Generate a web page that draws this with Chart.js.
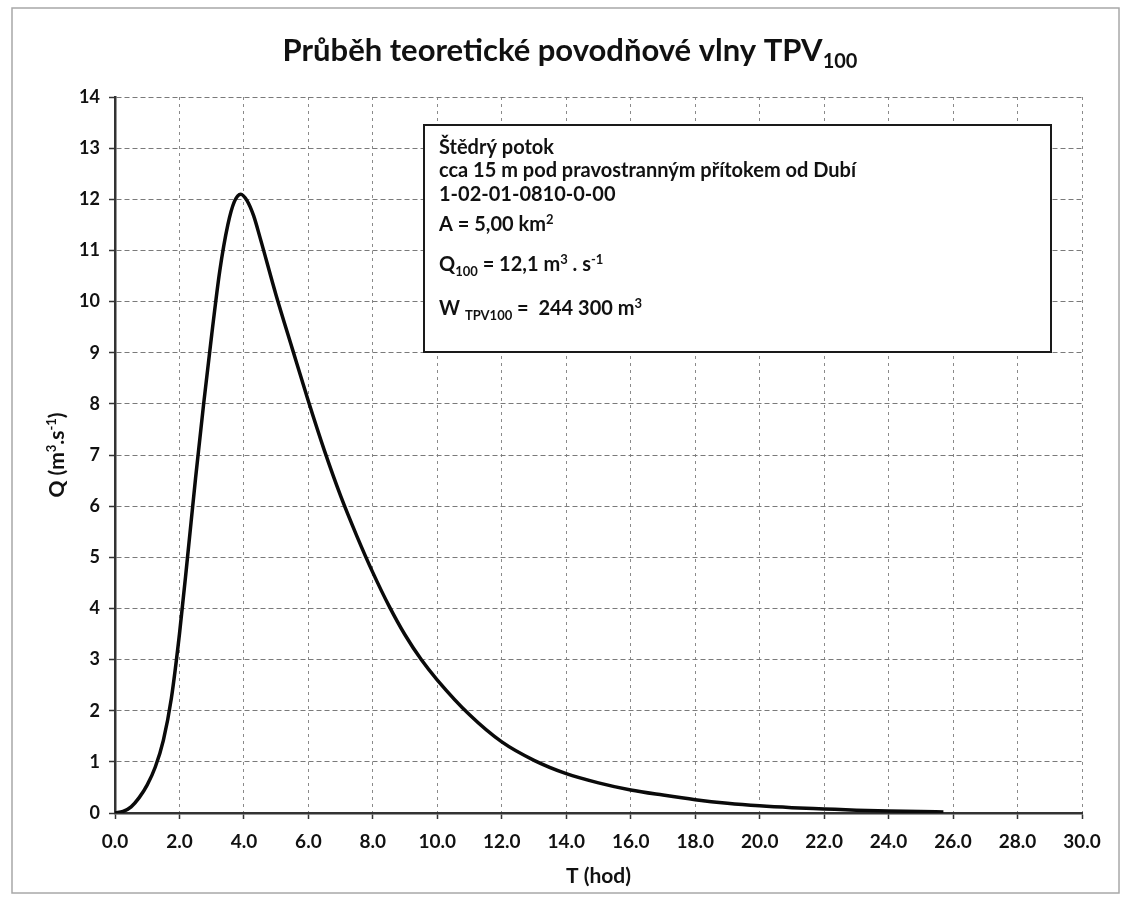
<!DOCTYPE html>
<html>
<head>
<meta charset="utf-8">
<script src="https://cdn.jsdelivr.net/npm/chart.js@4.4.1/dist/chart.umd.min.js"></script>
<style>
  html, body { margin: 0; padding: 0; background: #ffffff; }
  #wrap { width: 1121px; height: 916px; }
</style>
</head>
<body>
<div id="wrap"><canvas id="tpv" width="1121" height="916"></canvas></div>
<script>
// hydrograph: time (hod) and discharge (m3/s)
const hours = [0, 0.25, 0.5, 0.75, 1.0, 1.25, 1.5, 1.75, 2.0, 2.25, 2.5, 2.75, 3.0, 3.25, 3.5, 3.7, 3.9, 4.1, 4.3, 4.5, 5.0, 5.5, 6.0, 6.5, 7.0, 7.5, 8.0, 8.5, 9.0, 9.5, 10, 11, 12, 13, 14, 15, 16, 17, 18, 19, 20, 21, 22, 23, 24, 25, 25.7];
const flow = [0, 0.03, 0.12, 0.3, 0.55, 0.9, 1.42, 2.25, 3.5, 5.0, 6.55, 8.0, 9.35, 10.6, 11.5, 11.95, 12.1, 11.97, 11.68, 11.25, 10.12, 9.08, 8.05, 7.08, 6.2, 5.42, 4.7, 4.05, 3.48, 3.0, 2.6, 1.92, 1.39, 1.03, 0.77, 0.59, 0.45, 0.35, 0.26, 0.19, 0.14, 0.105, 0.08, 0.055, 0.04, 0.03, 0.02];

const xTitle = `T (hod)`;
const yTitleRuns = [[`Q (m`, `n`], [`3`, `sup`], [`.s`, `n`], [`-1`, `sup`], [`)`, `n`]];
const titleRuns = [[`Průběh teoretické povodňové vlny TPV`, `n`], [`100`, `sub`]];

const infoLines = [
  [[`Štědrý potok`, `n`]],
  [[`cca 15 m pod pravostranným přítokem od Dubí`, `n`]],
  [[`1-02-01-0810-0-00`, `n`]],
  [[`A = 5,00 km`, `n`], [`2`, `sup`]],
  [[`Q`, `n`], [`100`, `sub`], [` = 12,1 m`, `n`], [`3`, `sup`], [` . s`, `n`], [`-1`, `sup`]],
  [[`W `, `n`], [`TPV100`, `sub`], [` =  244 300 m`, `n`], [`3`, `sup`]],
];
const infoBaselines = [29, 52, 76, 106, 146, 190];

const FONT = `Lato, "Open Sans", sans-serif`;
const INK = `#111111`;

const drawRuns = (ctx, runs, x, y, size, measureOnly) => {
  let w = 0;
  runs.forEach(([text, kind]) => {
    const s = kind === `n` ? size : Math.round(size * 0.64);
    const dy = kind === `sup` ? -size * 0.36 : (kind === `sub` ? size * 0.24 : 0);
    ctx.font = `bold ${s}px ${FONT}`;
    if (!measureOnly) {
      ctx.fillText(text, x + w, y + dy);
    }
    w += ctx.measureText(text).width;
  });
  return w;
};

const decorPlugin = {
  id: `decor`,
  beforeDraw(chart) {
    const {ctx} = chart;
    ctx.save();
    ctx.fillStyle = `#ffffff`;
    ctx.fillRect(0, 0, chart.width, chart.height);
    ctx.strokeStyle = `#a8a8a8`;
    ctx.lineWidth = 1.5;
    ctx.strokeRect(12, 8, 1107, 885);
    ctx.restore();
  },
  afterDraw(chart) {
    const {ctx, chartArea} = chart;
    ctx.save();
    ctx.fillStyle = INK;
    ctx.textBaseline = `alphabetic`;

    // title
    const tw = drawRuns(ctx, titleRuns, 0, 0, 31, true);
    drawRuns(ctx, titleRuns, 570 - tw / 2, 61, 31, false);

    // y axis title, rotated
    const yw = drawRuns(ctx, yTitleRuns, 0, 0, 21, true);
    ctx.save();
    ctx.translate(64, (chartArea.top + chartArea.bottom) / 2);
    ctx.rotate(-Math.PI / 2);
    drawRuns(ctx, yTitleRuns, -yw / 2, 0, 21, false);
    ctx.restore();

    // info box
    const bx = 424;
    const by = 125;
    ctx.fillStyle = `#ffffff`;
    ctx.fillRect(bx, by, 627, 227);
    ctx.strokeStyle = `#1a1a1a`;
    ctx.lineWidth = 2;
    ctx.strokeRect(bx, by, 627, 227);
    ctx.fillStyle = INK;
    infoLines.forEach((runs, i) => {
      drawRuns(ctx, runs, bx + 15, by + infoBaselines[i], 20, false);
    });
    ctx.restore();
  }
};

const tickFont = (size) => ({family: FONT, size, weight: `bold`});

new Chart(document.getElementById(`tpv`), {
  type: `line`,
  plugins: [decorPlugin],
  data: {
    datasets: [{
      data: hours.map((t, i) => ({x: t, y: flow[i]})),
      borderColor: `#0a0a0a`,
      borderWidth: 3.5,
      pointRadius: 0,
      fill: false,
      cubicInterpolationMode: `monotone`,
    }]
  },
  options: {
    responsive: false,
    animation: false,
    layout: {
      padding: {top: 97, right: 39, bottom: 0, left: 0}
    },
    plugins: {
      legend: {display: false},
      tooltip: {enabled: false},
      title: {display: false},
    },
    scales: {
      x: {
        type: `linear`,
        min: 0,
        max: 30,
        ticks: {
          stepSize: 2,
          autoSkip: false,
          maxRotation: 0,
          padding: 11,
          color: INK,
          font: tickFont(19),
          callback: (v) => v.toFixed(1),
        },
        grid: {
          color: `#8a8a8a`,
          lineWidth: 1,
          tickLength: 6,
          tickColor: `#333333`,
          tickWidth: 1.5,
        },
        border: {
          display: true,
          color: `#333333`,
          width: 2.5,
          dash: [3, 4],
        },
        title: {
          display: true,
          text: xTitle,
          color: INK,
          font: tickFont(21),
          padding: {top: 0, bottom: 27},
        },
        afterFit: (scale) => {
          scale.height = 103;
        },
      },
      y: {
        min: 0,
        max: 14,
        ticks: {
          stepSize: 1,
          padding: 9,
          color: INK,
          font: tickFont(18),
        },
        grid: {
          color: `#7a7a7a`,
          lineWidth: 1,
          tickLength: 6,
          tickColor: `#333333`,
          tickWidth: 1.5,
        },
        border: {
          display: true,
          color: `#333333`,
          width: 2.5,
          dash: [5, 3],
        },
        afterFit: (scale) => {
          scale.width = 115;
        },
      }
    }
  }
});
</script>
</body>
</html>
